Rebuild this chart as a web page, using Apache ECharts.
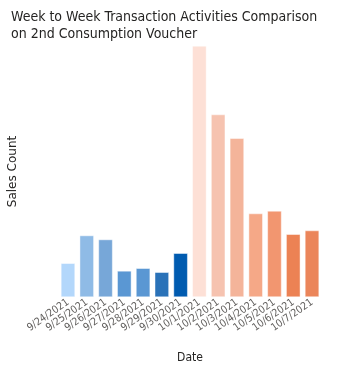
<!DOCTYPE html>
<html><head><meta charset="utf-8">
<script src="https://cdn.jsdelivr.net/npm/echarts@6/dist/echarts.min.js"></script>
<style>html,body{margin:0;padding:0;background:#fff}#c{width:341px;height:367px}</style>
</head><body><div id="c"></div>
<script>
const categories = ['9/24/2021','9/25/2021','9/26/2021','9/27/2021','9/28/2021','9/29/2021','9/30/2021','10/1/2021','10/2/2021','10/3/2021','10/4/2021','10/5/2021','10/6/2021','10/7/2021'];
const salesCount = [343, 620, 580, 266, 293, 253, 443, 2516, 1830, 1593, 840, 866, 633, 670];
const barColors = ['#b3d7fb','#8fbbe6','#77a7d8','#5a97d3','#5a97d3','#2a72b8','#005bb0','#fde0d6','#f6c3b0','#f4b49a','#f5a887','#f29670','#ec8254','#eb855a'];

const chart = echarts.init(document.getElementById('c'));
chart.setOption({
  animation: false,
  title: {
    text: 'Week to Week Transaction Activities Comparison\non 2nd Consumption Voucher',
    left: 6, top: 4,
    textStyle: {fontFamily: 'DejaVu Sans Condensed, sans-serif', fontSize: 14, fontWeight: 'normal', color: '#252423', lineHeight: 17}
  },
  grid: {left: 58.6, right: 19.6, top: 45.7, bottom: 69.7, containLabel: false, outerBoundsMode: 'none'},
  xAxis: {
    type: 'category', data: categories,
    name: 'Date', nameLocation: 'middle', nameGap: 55,
    nameTextStyle: {fontFamily: 'DejaVu Sans Condensed, sans-serif', fontSize: 12, color: '#252423'},
    axisLine: {show: false}, axisTick: {show: false},
    axisLabel: {rotate: 35, interval: 0, margin: 4, fontFamily: 'DejaVu Sans Condensed, sans-serif', fontSize: 10.5, color: '#605e5c'}
  },
  yAxis: {
    type: 'value', min: 0, max: 2516,
    name: 'Sales Count', nameLocation: 'middle', nameGap: 40,
    nameTextStyle: {fontFamily: 'DejaVu Sans, sans-serif', fontSize: 12, color: '#252423'},
    axisLabel: {show: false}, splitLine: {show: false}, axisLine: {show: false}, axisTick: {show: false}
  },
  series: [{
    type: 'bar', barCategoryGap: '22%',
    data: salesCount.map((v, i) => ({value: v, itemStyle: {color: barColors[i]}})),
    itemStyle: {borderColor: 'rgba(255,255,255,0.45)', borderWidth: 1}
  }]
});
</script></body></html>
